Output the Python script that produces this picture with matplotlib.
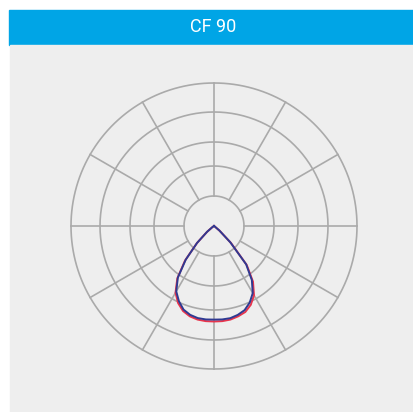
import numpy as np
import matplotlib.pyplot as plt
from matplotlib.patches import Rectangle

# Data (angle from nadir in degrees, negative = left half)
angles = [-60, -55, -50, -45, -40, -35, -30, -25, -20, -15, -10, -5, 0,
          5, 10, 15, 20, 25, 30, 35, 40, 45, 50, 55, 60]
red_curve = [0, 2, 9, 24, 45, 64, 77, 85, 90.5, 93.5, 95, 95.5, 95.5,
             95.5, 95, 93.5, 91.5, 87, 80, 68, 51, 24, 7, 1, 0]
blue_curve = [0, 2, 9, 24, 44, 63, 75.5, 83, 89, 92, 93.5, 93.8, 93.6,
              93.8, 93.6, 92, 89.5, 84.5, 77.5, 66, 50, 23, 7, 1, 0]
ring_values = [30, 60, 84, 114, 143]
spoke_angles = [0, 30, 60, 90, 120, 150, 180, 210, 240, 270, 300, 330]
title = 'CF 90'

W, H = 414, 412
fig = plt.figure(figsize=(W / 100, H / 100), dpi=100)
fig.patch.set_facecolor('white')

# header bar and grey panel
fig.patches.append(Rectangle((9 / W, (H - 45) / H), 1 - 9 / W, 35 / H,
                             transform=fig.transFigure, color='#00a5e6', zorder=-5))
fig.patches.append(Rectangle((10 / W, 0), 1 - 10 / W, (H - 45) / H,
                             transform=fig.transFigure, color='#eeeeee', zorder=-5))
fig.text(213 / W, (H - 27.5) / H, title, color='white', fontsize=13,
         family=['Liberation Sans Narrow', 'Roboto', 'DejaVu Sans'],
         ha='center', va='center')

# polar axes: centre (214, 226), radius 143 px
cx, cy, R = 214, 226, 143
ax = fig.add_axes([(cx - R) / W, (H - cy - R) / H, 2 * R / W, 2 * R / H],
                  projection='polar')
ax.set_zorder(2)
ax.set_facecolor('none')
ax.set_theta_zero_location('S')
ax.set_theta_direction(1)
ax.grid(False)
ax.spines['polar'].set_visible(False)
ax.set_xticks([])
ax.set_yticks([])
ax.set_ylim(0, ring_values[-1])

grid_col = '#aaaaaa'
full = np.linspace(0, 2 * np.pi, 361)
for rv in ring_values:
    ax.plot(full, [rv] * len(full), color=grid_col, lw=1.2, zorder=1, clip_on=False)
for a in spoke_angles:
    ax.plot([np.radians(a)] * 2, [ring_values[0], ring_values[-1]],
            color=grid_col, lw=1.2, zorder=1, clip_on=False)

th = np.radians(angles)
ax.plot(th, red_curve, color='#e8344c', lw=1.4, zorder=3)
ax.plot(th, blue_curve, color='#2f3a92', lw=1.4, zorder=4)

fig.savefig('out.png', dpi=100)
